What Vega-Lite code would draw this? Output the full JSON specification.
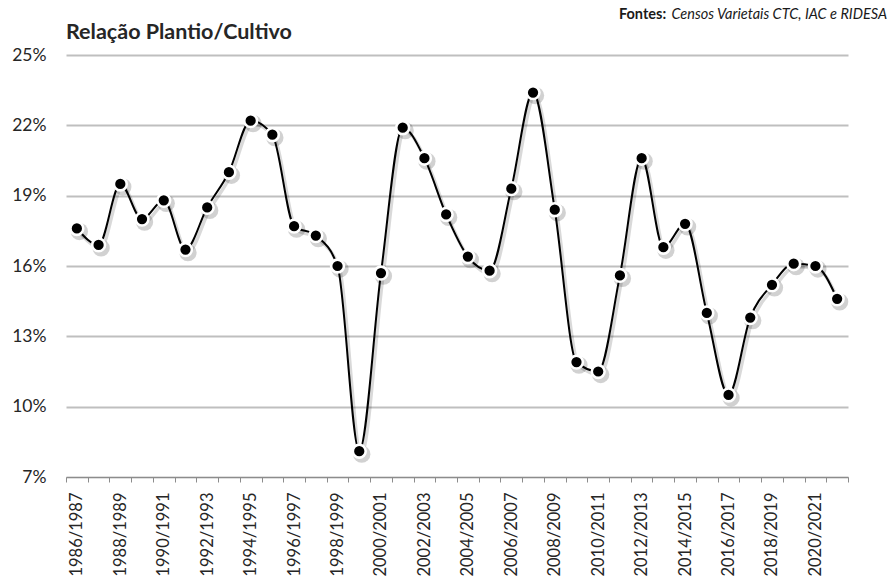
{
  "$schema": "https://vega.github.io/schema/vega-lite/v6.json",
  "width": 782,
  "height": 422,
  "autosize": {"type": "none"},
  "padding": {"left": 66, "top": 55, "right": 44, "bottom": 105},
  "background": "white",
  "title": {
    "text": "Relação Plantio/Cultivo",
    "anchor": "start",
    "frame": "group",
    "font": "Lato",
    "fontSize": 21.5,
    "fontWeight": "bold",
    "color": "#262626",
    "offset": -36
  },
  "config": {
    "view": {"stroke": null},
    "font": "Lato"
  },
  "datasets": {
    "serie": [
      {"safra": "1986/1987", "valor": 0.176},
      {"safra": "1987/1988", "valor": 0.169},
      {"safra": "1988/1989", "valor": 0.195},
      {"safra": "1989/1990", "valor": 0.180},
      {"safra": "1990/1991", "valor": 0.188},
      {"safra": "1991/1992", "valor": 0.167},
      {"safra": "1992/1993", "valor": 0.185},
      {"safra": "1993/1994", "valor": 0.200},
      {"safra": "1994/1995", "valor": 0.222},
      {"safra": "1995/1996", "valor": 0.216},
      {"safra": "1996/1997", "valor": 0.177},
      {"safra": "1997/1998", "valor": 0.173},
      {"safra": "1998/1999", "valor": 0.160},
      {"safra": "1999/2000", "valor": 0.081},
      {"safra": "2000/2001", "valor": 0.157},
      {"safra": "2001/2002", "valor": 0.219},
      {"safra": "2002/2003", "valor": 0.206},
      {"safra": "2003/2004", "valor": 0.182},
      {"safra": "2004/2005", "valor": 0.164},
      {"safra": "2005/2006", "valor": 0.158},
      {"safra": "2006/2007", "valor": 0.193},
      {"safra": "2007/2008", "valor": 0.234},
      {"safra": "2008/2009", "valor": 0.184},
      {"safra": "2009/2010", "valor": 0.119},
      {"safra": "2010/2011", "valor": 0.115},
      {"safra": "2011/2012", "valor": 0.156},
      {"safra": "2012/2013", "valor": 0.206},
      {"safra": "2013/2014", "valor": 0.168},
      {"safra": "2014/2015", "valor": 0.178},
      {"safra": "2015/2016", "valor": 0.140},
      {"safra": "2016/2017", "valor": 0.105},
      {"safra": "2017/2018", "valor": 0.138},
      {"safra": "2018/2019", "valor": 0.152},
      {"safra": "2019/2020", "valor": 0.161},
      {"safra": "2020/2021", "valor": 0.160},
      {"safra": "2021/2022", "valor": 0.146}
    ],
    "fonte": [
      {"safra": "2021/2022", "valor": 0.25, "rotulo": "Fontes:", "texto": "Censos Varietais CTC, IAC e RIDESA"}
    ]
  },
  "data": {"name": "serie"},
  "encoding": {
    "x": {
      "field": "safra",
      "type": "ordinal",
      "sort": null,
      "scale": {"type": "band", "paddingInner": 0, "paddingOuter": 0},
      "axis": {
        "title": null,
        "labelAngle": -90,
        "labelAlign": "right",
        "labelBaseline": "middle",
        "labelFont": "Lato",
        "labelFontSize": 16.5,
        "labelColor": "#262626",
        "labelPadding": 10,
        "labelOverlap": false,
        "labelExpr": "parseInt(substring(datum.value, 0, 4)) % 2 == 0 ? datum.value : ''",
        "tickBand": "extent",
        "ticks": true,
        "tickSize": 5,
        "tickColor": "#8c8c8c",
        "tickWidth": 1,
        "domainColor": "#8c8c8c",
        "domainWidth": 1.2,
        "grid": false
      }
    },
    "y": {
      "field": "valor",
      "type": "quantitative",
      "scale": {"domain": [0.07, 0.25], "nice": false, "zero": false},
      "axis": {
        "title": null,
        "values": [0.07, 0.10, 0.13, 0.16, 0.19, 0.22, 0.25],
        "format": ".0%",
        "labelFont": "Lato",
        "labelFontSize": 17.5,
        "labelColor": "#262626",
        "labelPadding": 20,
        "ticks": false,
        "domain": false,
        "grid": true,
        "gridColor": "#bfbfbf",
        "gridWidth": 2
      }
    }
  },
  "layer": [
    {
      "mark": {"type": "line", "interpolate": "monotone", "color": "#000000", "strokeWidth": 3.5, "opacity": 0.15, "xOffset": 2, "yOffset": 3}
    },
    {
      "mark": {"type": "line", "interpolate": "monotone", "color": "#000000", "strokeWidth": 2}
    },
    {
      "mark": {"type": "circle", "size": 300, "fill": "#000000", "opacity": 0.18, "xOffset": 2.5, "yOffset": 3}
    },
    {
      "mark": {"type": "circle", "size": 165, "fill": "#000000", "stroke": "#ffffff", "strokeWidth": 2.6, "opacity": 1}
    },
    {
      "data": {"name": "fonte"},
      "mark": {"type": "text", "align": "right", "baseline": "middle", "dx": 50, "dy": -40, "font": "Lato", "fontSize": 14.5, "fontStyle": "italic", "fill": "#1a1a1a"},
      "encoding": {
        "text": {"field": "texto"}
      }
    },
    {
      "data": {"name": "fonte"},
      "mark": {"type": "text", "align": "right", "baseline": "middle", "dx": -171, "dy": -40, "font": "Lato", "fontSize": 14.5, "fontWeight": "bold", "fill": "#1a1a1a"},
      "encoding": {
        "text": {"field": "rotulo"}
      }
    }
  ]
}
